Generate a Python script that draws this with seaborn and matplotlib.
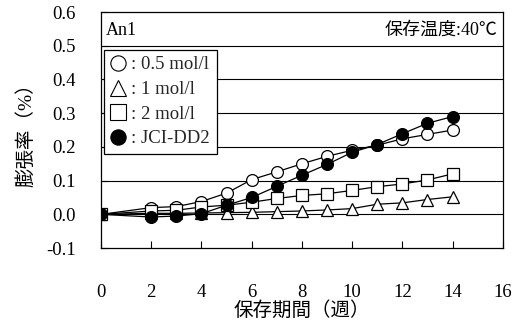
import matplotlib
matplotlib.use("Agg")
import matplotlib.pyplot as plt
import seaborn as sns
from matplotlib.lines import Line2D

sns.set_theme(style="white")
plt.rcParams['font.family'] = ['Liberation Serif', 'Noto Sans CJK JP']

weeks = [0, 2, 3, 4, 5, 6, 7, 8, 9, 10, 11, 12, 13, 14]
s_05 = [0, 0.020, 0.023, 0.038, 0.063, 0.103, 0.126, 0.150, 0.172, 0.190, 0.205, 0.224, 0.237, 0.250]
s_1 = [0, 0.003, 0.003, 0.004, 0.005, 0.006, 0.008, 0.010, 0.013, 0.017, 0.030, 0.034, 0.044, 0.052]
s_2 = [0, 0.010, 0.012, 0.022, 0.027, 0.036, 0.047, 0.056, 0.061, 0.071, 0.082, 0.090, 0.102, 0.120]
s_jci = [0, -0.008, -0.005, 0.002, 0.027, 0.050, 0.083, 0.116, 0.148, 0.184, 0.207, 0.239, 0.270, 0.290]
labels = [': 0.5 mol/l', ': 1 mol/l', ': 2 mol/l', ': JCI-DD2']
xlabel = '保存期間（週）'
ylabel = '膨張率（%）'
note_left = 'An1'
note_right = '保存温度:40℃'
xticks = list(range(0, 17, 2))
yticks = [-0.1, 0.0, 0.1, 0.2, 0.3, 0.4, 0.5, 0.6]

fig = plt.figure(figsize=(5.21, 3.29), dpi=100)
ax = fig.add_axes([0.194, 0.246, 0.771, 0.7175])

series = [(s_05, 'o', 'white'), (s_1, '^', 'white'), (s_2, 's', 'white'), (s_jci, 'o', 'black')]
handles = []
for (vals, mk, fc), lab in zip(series, labels):
    sns.lineplot(x=weeks, y=vals, ax=ax, color='black', linewidth=0.9,
                 marker=mk, markersize=8.5, markerfacecolor=fc,
                 markeredgecolor='black', markeredgewidth=0.9)
    handles.append(Line2D([], [], linestyle='none', marker=mk, markersize=11,
                          markerfacecolor=fc, markeredgecolor='black',
                          markeredgewidth=0.8))

ax.set_xlim(0, 16)
ax.set_ylim(-0.1, 0.6)
ax.set_xticks(xticks)
ax.set_yticks(yticks)
ax.set_yticklabels([f'{v:.1f}' for v in yticks])
for v in yticks[1:-1]:
    ax.axhline(v, color='black', linewidth=0.8, zorder=0)
ax.tick_params(axis='x', direction='in', length=5, width=0.8, pad=26, labelsize=13.5, colors='black')
ax.tick_params(axis='y', direction='in', length=5, width=0.8, pad=18, labelsize=13.5, colors='black')
ax.tick_params(bottom=True, left=True)
for sp in ax.spines.values():
    sp.set_color('black')
    sp.set_linewidth(0.9)
ax.set_xlabel(xlabel, fontsize=14, labelpad=0, color='black')
ax.set_ylabel(ylabel, fontsize=14, labelpad=8, color='black')

ax.text(0.2, 0.545, note_left, fontsize=13, ha='left', va='center', color='black')
ax.text(15.8, 0.545, note_right, fontsize=13, ha='right', va='center', color='black')

leg = ax.legend(handles, labels, loc='upper left', bbox_to_anchor=(0.008, 0.84),
                frameon=True, fancybox=False, fontsize=13.5, handlelength=0.8,
                handletextpad=0.3, borderpad=0.35, labelspacing=0.4, borderaxespad=0)
leg.get_frame().set_edgecolor('black')
leg.get_frame().set_linewidth(0.9)
leg.get_frame().set_alpha(1)

fig.savefig('out.png', dpi=100)
